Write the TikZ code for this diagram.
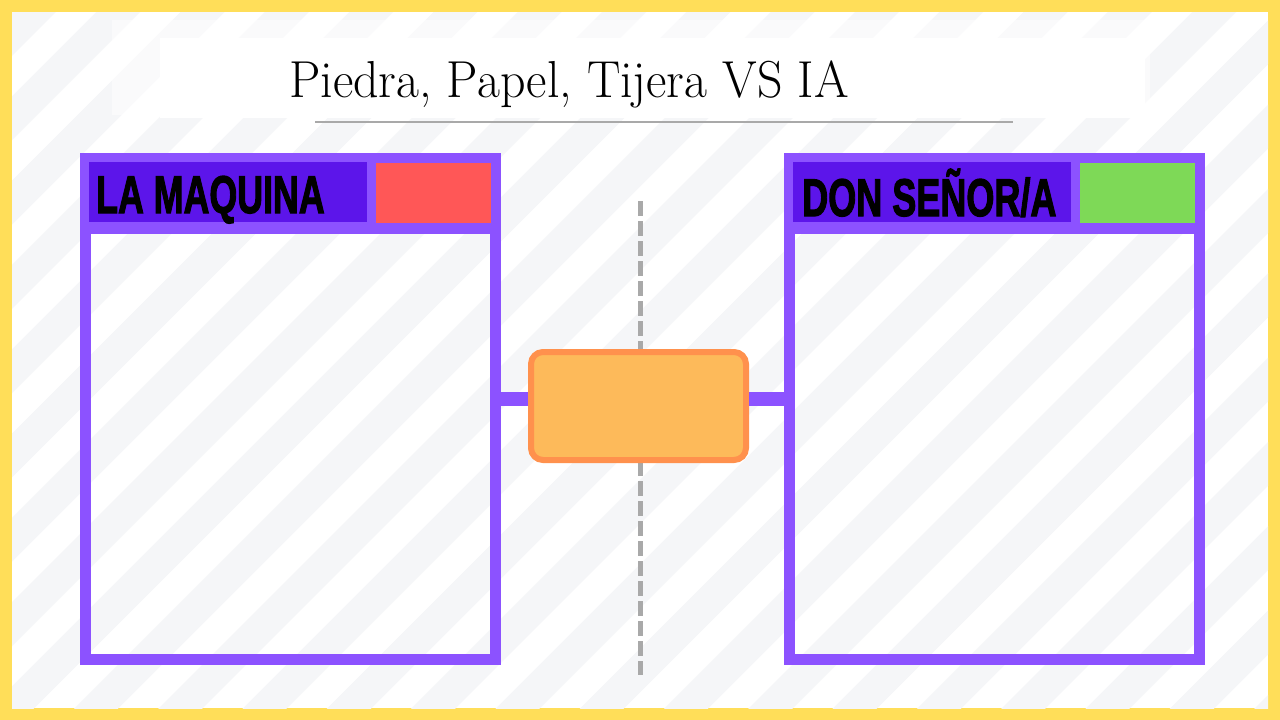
\documentclass[tikz,border=0pt]{standalone}
\usepackage{fontspec}
\usepackage{tikz}
\usetikzlibrary{positioning, calc}
\newfontfamily\headfont{Liberation Sans}[BoldFeatures={FakeBold=2.5}]

\definecolor{frameyellow}{HTML}{FFDE59}
\definecolor{stripegray}{HTML}{F5F6F8}
\definecolor{panelpurple}{HTML}{8C52FF}
\definecolor{headpurple}{HTML}{5C15EA}
\definecolor{scorered}{HTML}{FF5757}
\definecolor{scoregreen}{HTML}{7ED957}
\definecolor{boxorange}{HTML}{FF914D}
\definecolor{boxfill}{HTML}{FDBA5A}
\definecolor{rulegray}{HTML}{A9A9A9}

\begin{document}
\begin{tikzpicture}[x=1pt, y=-1pt,
  panel/.style={draw=panelpurple, line width=11pt,
                minimum width=410pt, minimum height=501pt, inner sep=0pt},
  stripe/.style={stripegray, line width=31pt},
  link/.style={panelpurple, line width=14pt},
  headtext/.style={font=\headfont\bfseries\fontsize{53}{60}\selectfont,
                   inner sep=0pt, anchor=base west}]
  \useasboundingbox (0,0) rectangle (1280,720);

  % Frame and striped background
  \fill[frameyellow] (0,0) rectangle (1280,720);
  \fill[white] (12,12) rectangle (1268,708);
  \begin{scope}
    \clip (12,12) rectangle (1268,708);
    \foreach \k in {0,...,24} {
      \pgfmathsetmacro\c{46+84.3*\k}
      \draw[stripe] (\c+800,-800) -- (\c-800,800);
    }
  \end{scope}

  % Title
  \fill[white, opacity=0.5] (112,20) rectangle (1150,115);
  \fill[white] (160,38) rectangle (1145,118);
  \node[font=\fontsize{52}{60}\selectfont, anchor=base, inner sep=0pt]
    (title) at (569,97) {\scalebox{0.96}[1]{Piedra, Papel, Tijera VS IA}};
  \draw[rulegray, line width=2pt] (315,122) -- (1013,122);

  % Divider
  \draw[rulegray, line width=5pt, dash pattern=on 15pt off 5pt]
    (640,201) -- (640,675);

  % Left panel: the machine
  \node[panel] (maquina) at (290.5,409) {};
  \fill[panelpurple] (maquina.north west) rectangle ($(maquina.north east)+(0,81)$);
  \fill[headpurple] ($(maquina.north west)+(9,9)$) rectangle ($(maquina.north west)+(287,69)$);
  \fill[scorered] ($(maquina.north west)+(296,10)$) rectangle ($(maquina.north west)+(411,70)$);
  \node[headtext] (maqlabel) at ($(maquina.north west)+(16,60)$)
    {\scalebox{0.675}[1]{LA MAQUINA}};

  % Right panel: the player
  \node[panel] (senor) at (994.5,409) {};
  \fill[panelpurple] (senor.north west) rectangle ($(senor.north east)+(0,81)$);
  \fill[headpurple] ($(senor.north west)+(9,9)$) rectangle ($(senor.north west)+(287,69)$);
  \fill[scoregreen] ($(senor.north west)+(296,10)$) rectangle ($(senor.north west)+(411,70)$);
  \node[headtext] (senlabel) at ($(senor.north west)+(18,63)$)
    {\scalebox{0.68}[1]{DON SEÑOR/A}};

  % Result box in the middle
  \node[draw=boxorange, fill=boxfill, line width=6pt, rounded corners=12pt,
        minimum width=215pt, minimum height=108pt] (resultado) at (638.5,406) {};
  \draw[link] ([yshift=7pt]resultado.west) -- ([yshift=7pt]resultado.west -| maquina.east);
  \draw[link] ([yshift=7pt]resultado.east) -- ([yshift=7pt]resultado.east -| senor.west);
\end{tikzpicture}
\end{document}
